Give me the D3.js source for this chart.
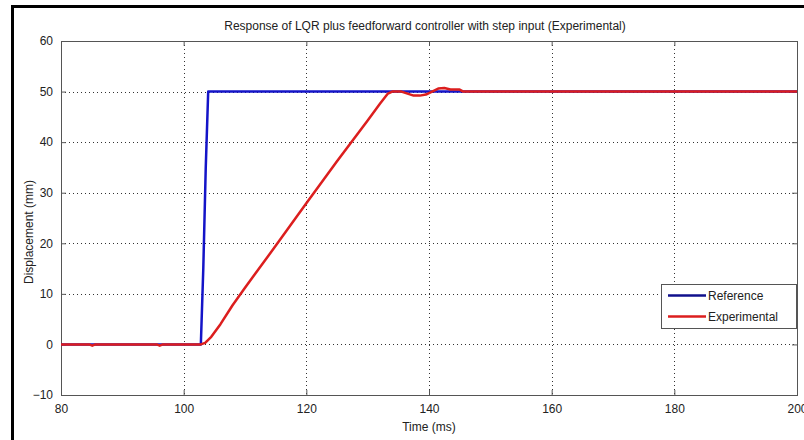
<!DOCTYPE html>
<html>
<head>
<meta charset="utf-8">
<script src="https://cdn.jsdelivr.net/npm/d3@7"></script>
<style>
  body { margin: 0; background: #fff; }
  text { font-family: "Liberation Sans Narrow", "Arial Narrow", "Liberation Sans", Arial, sans-serif; fill: #222; }
</style>
</head>
<body>
<svg id="drawing_region"></svg>
<script>
// time (ms) / displacement (mm)
const refTime = [80, 102.8, 103.2, 103.6, 104.0, 200];
const refDisp = [0, 0, 15, 35, 50, 50];

const expTime = [80, 84.6, 85.1, 85.6, 95.6, 96.1, 96.6, 102.8, 103.5, 104.5, 106, 108, 110, 115, 120, 125, 130, 132,
                 133.3, 134, 135.5, 136.5, 137.5, 138.5, 139.5, 140.5, 141.5, 142.5, 143.5, 145, 145.6, 200];
const expDisp = [0, 0, -0.25, 0, 0, -0.25, 0, 0, 0.3, 1.5, 4, 7.8, 11.2, 19.5, 27.9, 36.2, 44.3, 47.6,
                 49.6, 50, 50, 49.6, 49.2, 49.2, 49.4, 50, 50.6, 50.7, 50.4, 50.4, 50, 50];

const xTicks = [80, 100, 120, 140, 160, 180, 200];
const yTicks = [-10, 0, 10, 20, 30, 40, 50, 60];
const seriesNames = ["Reference", "Experimental"];
const seriesColors = ["#1414c8", "#dc1e1e"];

const config = {
    width: 804,
    height: 440,
    plot: { left: 61, right: 797, top: 41, bottom: 395 },
    title: "Response of LQR plus feedforward controller with step input (Experimental)",
    xlabel: "Time (ms)",
    ylabel: "Displacement (mm)",
};

const svg = d3.select('#drawing_region')
    .attr('width', config.width)
    .attr('height', config.height);

// outer frame (only left and top edges visible)
svg.append('path')
    .attr('d', `M12.5,440 L12.5,6.5 L804,6.5`)
    .attr('fill', 'none')
    .attr('stroke', '#000')
    .attr('stroke-width', 3);

const p = config.plot;
const xscale = d3.scaleLinear().domain([80, 200]).range([p.left, p.right]);
const yscale = d3.scaleLinear().domain([-10, 60]).range([p.bottom, p.top]);

// grid
const grid = svg.append('g');
grid.selectAll('.vgrid')
    .data(xTicks.slice(1, -1))
    .enter().append('line')
    .attr('x1', d => Math.round(xscale(d)) + 0.5)
    .attr('x2', d => Math.round(xscale(d)) + 0.5)
    .attr('y1', p.top).attr('y2', p.bottom)
    .attr('stroke', '#333').attr('stroke-dasharray', '1,3');
grid.selectAll('.hgrid')
    .data(yTicks.slice(1, -1))
    .enter().append('line')
    .attr('x1', p.left).attr('x2', p.right)
    .attr('y1', d => Math.round(yscale(d)) + 0.5)
    .attr('y2', d => Math.round(yscale(d)) + 0.5)
    .attr('stroke', '#333').attr('stroke-dasharray', '1,3');

// axes with inward ticks, and mirrored on top / right
const xaxis = d3.axisBottom(xscale).tickValues(xTicks).tickSize(-5).tickPadding(9).tickFormat(d3.format('d'));
const yaxis = d3.axisLeft(yscale).tickValues(yTicks).tickSize(-5).tickPadding(8).tickFormat(d3.format('d'));

const xg = svg.append('g').attr('transform', `translate(0, ${p.bottom})`).call(xaxis);
const yg = svg.append('g').attr('transform', `translate(${p.left}, 0)`).call(yaxis);
svg.append('g').attr('transform', `translate(0, ${p.top})`)
    .call(d3.axisTop(xscale).tickValues(xTicks).tickSize(-5).tickFormat(''));
svg.append('g').attr('transform', `translate(${p.right}, 0)`)
    .call(d3.axisRight(yscale).tickValues(yTicks).tickSize(-5).tickFormat(''));

svg.selectAll('.domain').remove();
svg.selectAll('.tick line').attr('stroke', '#555');
svg.selectAll('.tick text').attr('font-size', 12).attr('fill', '#222')
    .style('font-family', '"Liberation Sans Narrow", "Liberation Sans", Arial, sans-serif');

svg.append('rect')
    .attr('x', p.left + 0.5).attr('y', p.top + 0.5)
    .attr('width', p.right - p.left).attr('height', p.bottom - p.top)
    .attr('fill', 'none').attr('stroke', '#555');

// lines
const line = d3.line().x(d => xscale(d[0])).y(d => yscale(d[1]));
const series = [
    d3.zip(refTime, refDisp),
    d3.zip(expTime, expDisp),
];
svg.selectAll('.series')
    .data(series)
    .enter().append('path')
    .attr('d', line)
    .attr('fill', 'none')
    .attr('stroke', (d, i) => seriesColors[i])
    .attr('stroke-width', 2.5)
    .attr('stroke-linejoin', 'round');

// legend
const legend = svg.append('g').attr('transform', 'translate(661, 284)');
legend.append('rect')
    .attr('x', 0.5).attr('y', 0.5)
    .attr('width', 135).attr('height', 44)
    .attr('fill', '#fff').attr('stroke', '#555');
seriesNames.forEach((name, i) => {
    const y = 11.5 + i * 21;
    legend.append('line')
        .attr('x1', 7).attr('x2', 45)
        .attr('y1', y).attr('y2', y)
        .attr('stroke', i === 0 ? '#10108c' : seriesColors[i])
        .attr('stroke-width', 2.5);
    legend.append('text')
        .attr('x', 47).attr('y', y + 4.5)
        .attr('font-size', 12)
        .text(name);
});

// labels
svg.append('text')
    .attr('x', (p.left + p.right) / 2 - 4)
    .attr('y', 30)
    .attr('text-anchor', 'middle')
    .attr('font-size', 12)
    .text(config.title);

svg.append('text')
    .attr('x', (p.left + p.right) / 2)
    .attr('y', 431)
    .attr('text-anchor', 'middle')
    .attr('font-size', 12)
    .text(config.xlabel);

svg.append('text')
    .attr('transform', `translate(33, ${(p.top + p.bottom) / 2 + 14}) rotate(-90)`)
    .attr('text-anchor', 'middle')
    .attr('font-size', 12)
    .text(config.ylabel);
</script>
</body>
</html>
